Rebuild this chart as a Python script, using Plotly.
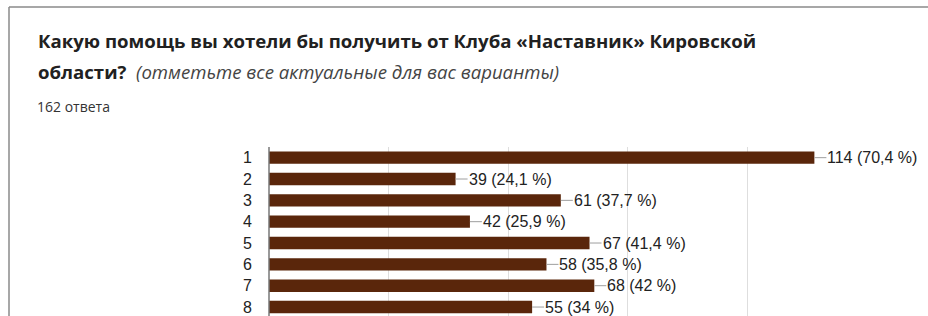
import plotly.graph_objects as go

categories = ["1", "2", "3", "4", "5", "6", "7", "8"]
counts = [114, 39, 61, 42, 67, 58, 68, 55]
percents = ["70,4", "24,1", "37,7", "25,9", "41,4", "35,8", "42", "34"]
title_line1 = "Какую помощь вы хотели бы получить от Клуба «Наставник» Кировской"
title_line2_bold = "области?"
title_line2_italic = "(отметьте все актуальные для вас варианты)"
subtitle = "162 ответа"

W, H = 928, 316
L, R_EDGE, TOP = 269, 867, 147
BOT = H

def px_x(px):
    return (px - L) / (R_EDGE - L)

def px_y(py):
    return (BOT - py) / (BOT - TOP)

fig = go.Figure()
fig.add_trace(go.Bar(
    y=categories, x=counts, orientation="h",
    marker=dict(color="#5a260b", line=dict(width=0)),
    hoverinfo="skip",
))

ann = []
for i, (v, p) in enumerate(zip(counts, percents)):
    ann.append(dict(
        x=v, y=i, xref="x", yref="y",
        text=f"{v} ({p} %)",
        showarrow=True, arrowhead=0, arrowwidth=1, arrowcolor="#9e9e9e",
        ax=12, ay=0, xanchor="left", yanchor="middle", standoff=0,
        borderpad=0,
        font=dict(family="Liberation Sans, Arial", size=16, color="#222222"),
    ))

ann.append(dict(
    x=px_x(36), y=px_y(40), xref="paper", yref="paper",
    text=f"<b>{title_line1}</b>", showarrow=False,
    xanchor="left", yanchor="middle",
    font=dict(family="Open Sans", size=18.6, color="#212121"),
))
ann.append(dict(
    x=px_x(36), y=px_y(72), xref="paper", yref="paper",
    text=f"<b>{title_line2_bold}</b>  <i><span style='color:#444444'>{title_line2_italic}</span></i>",
    showarrow=False, xanchor="left", yanchor="middle",
    font=dict(family="Open Sans", size=18.6, color="#212121"),
))
ann.append(dict(
    x=px_x(35), y=px_y(106), xref="paper", yref="paper",
    text=subtitle, showarrow=False, xanchor="left", yanchor="middle",
    font=dict(family="Open Sans", size=14, color="#333333"),
))

shapes = [
    dict(type="line", xref="paper", yref="paper",
         x0=px_x(9), x1=px_x(9), y0=px_y(7), y1=px_y(H + 5),
         line=dict(color="#8a8a8a", width=1.5), layer="above"),
    dict(type="line", xref="paper", yref="paper",
         x0=px_x(9), x1=px_x(W + 5), y0=px_y(7), y1=px_y(7),
         line=dict(color="#8a8a8a", width=1.5), layer="above"),
    dict(type="line", xref="paper", yref="paper",
         x0=0, x1=0, y0=0, y1=1,
         line=dict(color="#777777", width=1.5), layer="above"),
]

fig.update_layout(
    width=W, height=H,
    margin=dict(l=L, r=W - R_EDGE, t=TOP, b=0, pad=0),
    paper_bgcolor="white", plot_bgcolor="white",
    bargap=0.42,
    showlegend=False,
    annotations=ann,
    shapes=shapes,
    xaxis=dict(range=[0, 125], dtick=25, showgrid=True, gridcolor="#dedede",
               gridwidth=1, zeroline=False, showticklabels=False, ticks="",
               fixedrange=True),
    yaxis=dict(type="category", range=[7.42, -0.5], showgrid=False,
               zeroline=False, ticks="", ticklabelstandoff=16,
               tickfont=dict(family="Liberation Sans, Arial", size=16, color="#222222"),
               fixedrange=True),
)

fig.write_html("out.html", config={"displayModeBar": False},
               post_script="document.body.style.margin='0px';")
